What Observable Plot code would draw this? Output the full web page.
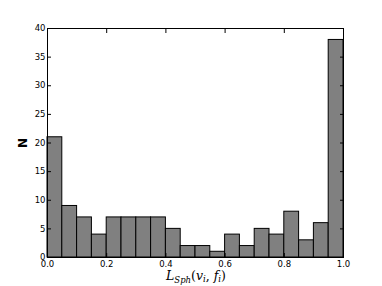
<!DOCTYPE html>
<html><head><meta charset="utf-8">
<script src="https://cdn.jsdelivr.net/npm/d3@7"></script>
<script src="https://cdn.jsdelivr.net/npm/@observablehq/plot@0.6"></script>
<style>body{margin:0;background:#fff}</style>
</head><body><div id="chart"></div>
<script>
const binEdges = [0,0.05,0.1,0.15,0.2,0.25,0.3,0.35,0.4,0.45,0.5,0.55,0.6,0.65,0.7,0.75,0.8,0.85,0.9,0.95,1.0];
const counts = [21,9,7,4,7,7,7,7,5,2,2,1,4,2,5,4,8,3,6,38];
const xTicks = [0,0.2,0.4,0.6,0.8,1.0];
const yTicks = [0,5,10,15,20,25,30,35,40];

const bars = counts.map((c,i)=>({x1:binEdges[i], x2:binEdges[i+1], n:c}));
const font = "DejaVu Sans";
const plot = Plot.plot({
  width:382, height:286,
  marginLeft:47, marginRight:39, marginTop:28, marginBottom:29,
  style:{fontFamily:font, fontSize:"8.5px", color:"#000", background:"#fff"},
  x:{domain:[0,1]},
  y:{domain:[0,40]},
  marks:[
    Plot.rectY(bars,{x1:"x1",x2:"x2",y:"n",fill:"#808080",stroke:"#000",strokeWidth:1,insetLeft:0,insetRight:0}),
    Plot.axisX(xTicks,{anchor:"bottom",tickSize:-4,tickPadding:7,label:null,tickFormat:d3.format(".1f"),stroke:"#000"}),
    Plot.axisX(xTicks,{anchor:"top",tickSize:-4,text:null,label:null,stroke:"#000"}),
    Plot.axisY(yTicks,{anchor:"left",tickSize:-4,tickPadding:6,label:null,stroke:"#000"}),
    Plot.axisY(yTicks,{anchor:"right",tickSize:-4,text:null,label:null,stroke:"#000"}),
    Plot.frame({stroke:"#000",strokeWidth:1})
  ]
});
document.getElementById("chart").appendChild(plot);
const svg = d3.select(plot);
const xl = svg.append("text").attr("x",196).attr("y",280).attr("text-anchor","middle")
  .style("font-family","DejaVu Serif").style("font-size","12.5px").style("font-style","italic").attr("fill","#000");
xl.append("tspan").text("L");
xl.append("tspan").attr("dy",3).style("font-size","8.5px").text("Sph");
xl.append("tspan").attr("dy",-3).style("font-style","normal").text("(");
xl.append("tspan").text("v");
xl.append("tspan").attr("dy",2).style("font-size","8.5px").text("i");
xl.append("tspan").attr("dy",-2).style("font-style","normal").text(", ");
xl.append("tspan").text("f");
xl.append("tspan").attr("dy",2).style("font-size","8.5px").text("i");
xl.append("tspan").attr("dy",-2).style("font-style","normal").text(")");
svg.append("text").attr("transform","translate(27,143) rotate(-90)").attr("text-anchor","middle")
  .style("font-family",font).style("font-size","12px").style("font-weight","bold").attr("fill","#000").text("N");
</script></body></html>
